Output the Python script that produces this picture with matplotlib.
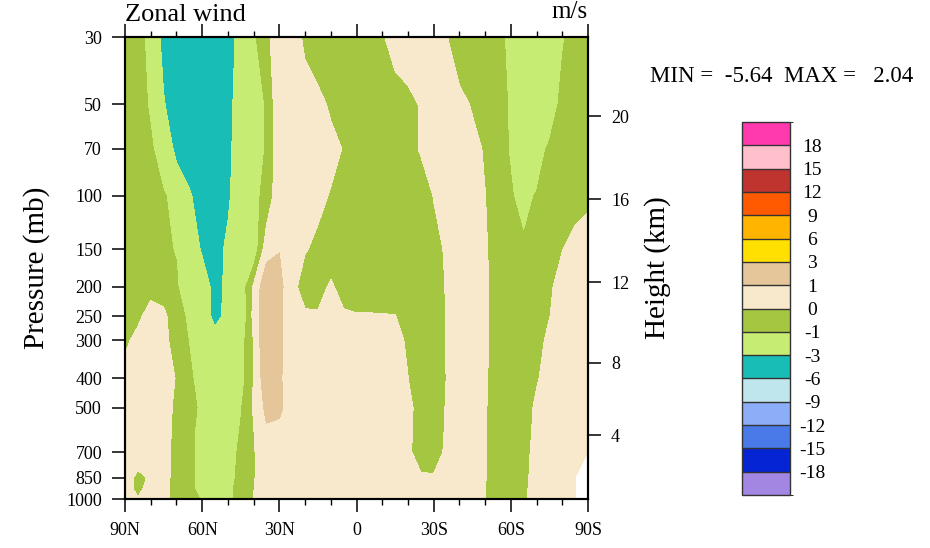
import numpy as np
import matplotlib
matplotlib.use("Agg")
import matplotlib.pyplot as plt
from matplotlib.colors import ListedColormap, BoundaryNorm
from matplotlib.cm import ScalarMappable
from matplotlib.ticker import FixedLocator, NullLocator

plt.rcParams['font.family'] = ['Liberation Serif', 'DejaVu Serif']
plt.rcParams['axes.unicode_minus'] = False

# ---------------- data ----------------
lats = [90, 85, 80, 75, 70, 65, 60, 55, 50, 45, 40, 35, 30, 25, 20, 15, 10, 5, 0,
        -5, -10, -15, -20, -25, -30, -35, -40, -45, -50, -55, -60, -65, -70, -75, -80, -85, -90]
pressures = [30, 50, 70, 100, 150, 200, 250, 300, 400, 500, 600, 700, 850, 925, 1000]

u_30 = [-0.5, -0.8, -1.2, -3.7, -4.5, -5.0, -5.64, -5.0, -4.0, -2.2, -1.2, -0.2, 0.5, 0.5, -0.2, -0.6, -0.7, -0.8, -0.7,
        -0.5, -0.1, 0.4, 0.6, 0.6, 0.4, 0.05, -0.6, -0.8, -0.85, -0.9, -1.1, -1.8, -2.0, -1.8, -1.1, -0.6, -0.5]
u_50 = [-0.5, -0.7, -1.1, -2.8, -4.5, -5.2, -5.5, -5.0, -3.5, -2.2, -1.6, -0.9, 0.8, 0.6, 0.5, 0.3, -0.15, -0.6, -0.7,
        -0.7, -0.6, -0.5, -0.3, 0.08, 0.5, 0.5, 0.3, -0.08, -0.6, -0.85, -1.05, -1.8, -2.1, -1.6, -0.7, -0.5, -0.5]
u_70 = [-0.5, -0.7, -0.9, -1.4, -3.6, -4.8, -5.3, -4.8, -3.4, -2.1, -1.6, -0.9, 0.8, 0.7, 0.6, 0.5, 0.3, -0.05, -0.6,
        -0.8, -0.8, -0.6, -0.3, 0.08, 0.5, 0.6, 0.5, 0.3, -0.1, -0.8, -1.05, -1.5, -1.4, -0.85, -0.6, -0.5, -0.4]
u_100 = [-0.4, -0.6, -0.8, -0.95, -1.2, -2.6, -4.6, -4.8, -3.3, -1.8, -1.4, -0.6, 0.6, 0.6, 0.5, 0.3, -0.08, -0.5, -0.7,
         -0.8, -0.8, -0.7, -0.6, -0.5, 0.03, 0.4, 0.5, 0.4, 0.02, -0.6, -0.95, -1.2, -0.95, -0.7, -0.5, -0.3, -0.15]
u_150 = [-0.3, -0.5, -0.7, -0.9, -1.04, -2.5, -3.1, -3.8, -2.6, -2.2, -1.8, 0.6, 0.98, 0.7, 0.1, -0.3, -0.7, -0.8, -0.8,
         -0.8, -0.8, -0.7, -0.6, -0.5, -0.3, 0.12, 0.5, 0.4, 0.1, -0.4, -0.8, -0.9, -0.7, -0.5, -0.03, 0.3, 0.4]
u_200 = [-0.2, -0.4, -0.3, -0.6, -0.9, -1.7, -2.5, -3.3, -2.8, -1.8, 0.2, 1.8, 1.2, 0.5, -0.75, -0.5, 0.2, -0.5, -0.8,
         -0.8, -0.8, -0.8, -0.8, -0.7, -0.5, 0.07, 0.5, 0.4, 0.2, -0.5, -0.8, -0.8, -0.6, -0.2, 0.5, 0.6, 0.6]
u_250 = [-0.4, -0.2, 0.4, 0.3, -0.8, -1.1, -2.2, -3.4, -2.6, -2.0, 0.3, 1.8, 1.15, 0.6, 0.3, 0.15, 0.15, 0.2, 0.12,
         0.12, 0.1, 0.05, -0.6, -0.8, -0.6, 0.07, 0.5, 0.4, 0.2, -0.5, -0.7, -0.7, -0.5, -0.02, 0.4, 0.5, 0.6]
u_300 = [-0.2, 0.3, 0.5, 0.3, -0.45, -1.05, -1.8, -2.4, -2.0, -1.5, 0.05, 2.04, 1.15, 0.6, 0.5, 0.5, 0.4, 0.4, 0.35,
         0.3, 0.25, 0.15, -0.07, -0.7, -0.6, 0.07, 0.5, 0.4, 0.2, -0.5, -0.7, -0.6, -0.3, 0.2, 0.5, 0.6, 0.6]
u_400 = [0.4, 0.5, 0.5, 0.4, -0.05, -0.8, -1.5, -2.0, -2.0, -1.5, 0.05, 1.7, 1.1, 0.6, 0.5, 0.5, 0.4, 0.4, 0.4,
         0.35, 0.3, 0.2, 0.01, -0.6, -0.6, 0.02, 0.5, 0.4, 0.1, -0.4, -0.7, -0.6, -0.1, 0.4, 0.5, 0.6, 0.6]
u_500 = [0.4, 0.5, 0.5, 0.4, -0.2, -0.85, -1.1, -1.9, -2.0, -1.1, 0.1, 1.25, 1.15, 0.6, 0.5, 0.5, 0.45, 0.45, 0.45,
         0.4, 0.35, 0.25, 0.1, -0.15, -0.5, 0.07, 0.5, 0.4, 0.1, -0.6, -0.7, -0.5, 0.2, 0.5, 0.5, 0.6, 0.6]
u_600 = [0.4, 0.5, 0.5, 0.4, -0.25, -0.9, -1.15, -1.8, -1.8, -0.9, -0.03, 0.85, 0.8, 0.6, 0.5, 0.5, 0.45, 0.45, 0.45,
         0.4, 0.35, 0.25, 0.1, -0.2, -0.5, 0.12, 0.5, 0.4, 0.05, -0.6, -0.7, -0.4, 0.25, 0.5, 0.5, 0.6, 0.6]
u_700 = [0.4, 0.45, 0.5, 0.4, -0.4, -0.9, -1.15, -1.8, -1.7, -0.7, -0.05, 0.4, 0.5, 0.5, 0.45, 0.45, 0.45, 0.45, 0.4,
         0.35, 0.3, 0.25, 0.15, -0.35, -0.5, 0.2, 0.5, 0.4, 0.05, -0.6, -0.7, -0.3, 0.3, 0.5, 0.5, 0.5, 0.5]
u_850 = [0.4, -0.2, 0.1, 0.4, -0.4, -0.9, -1.13, -1.7, -1.4, -0.7, -0.05, 0.4, 0.5, 0.5, 0.45, 0.45, 0.45, 0.45, 0.4,
         0.35, 0.35, 0.3, 0.3, 0.1, 0.1, 0.3, 0.5, 0.4, 0.05, -0.6, -0.7, -0.2, 0.3, 0.5, 0.5, 0.5, np.nan]
u_925 = [0.35, -0.2, 0.3, 0.4, -0.45, -0.9, -1.15, -1.6, -1.3, -0.6, -0.02, 0.4, 0.5, 0.5, 0.45, 0.45, 0.45, 0.45, 0.4,
         0.35, 0.35, 0.3, 0.3, 0.25, 0.2, 0.3, 0.5, 0.4, 0.03, -0.6, -0.7, -0.2, 0.4, 0.5, 0.5, 0.5, np.nan]
u_1000 = [0.3, 0.05, 0.4, 0.4, -0.4, -0.9, -1.02, -1.5, -1.3, -0.55, 0.02, 0.4, 0.5, 0.5, 0.45, 0.45, 0.45, 0.45, 0.4,
          0.35, 0.35, 0.3, 0.3, 0.25, 0.2, 0.3, 0.5, 0.4, 0.02, -0.6, -0.7, -0.2, 0.4, 0.5, 0.5, 0.5, np.nan]

levels = [-18, -15, -12, -9, -6, -3, -1, 0, 1, 3, 6, 9, 12, 15, 18]
fill_colors = ['#A386E2', '#0524D4', '#4A7AE8', '#8CAEF8', '#BEE6EC', '#18BDB5', '#C6EC74',
               '#A5C640', '#F8E8CC', '#E5C59A', '#FFE000', '#FFB400', '#FF5A00', '#C0342F',
               '#FFC0CB', '#FF3AAE']

pres_ticks = [30, 50, 70, 100, 150, 200, 250, 300, 400, 500, 700, 850, 1000]
lat_ticks = [90, 60, 30, 0, -30, -60, -90]
lat_labels = ['90N', '60N', '30N', '0', '30S', '60S', '90S']
height_ticks = [4, 8, 12, 16, 20]

title_left = 'Zonal wind'
title_right = 'm/s'
ylabel_left = 'Pressure (mb)'
ylabel_right = 'Height (km)'
minmax_text = 'MIN =  -5.64  MAX =   2.04'

# ---------------- figure ----------------
W, H = 930, 548
fig = plt.figure(figsize=(W / 100, H / 100), dpi=100)
ax = fig.add_axes([125 / W, 1 - 499 / H, 463 / W, 462 / H])

U = np.ma.masked_invalid(np.array([u_30, u_50, u_70, u_100, u_150, u_200, u_250, u_300,
                                   u_400, u_500, u_600, u_700, u_850, u_925, u_1000]))
bounds = [-21] + levels + [21]
cmap = ListedColormap(fill_colors)
norm = BoundaryNorm(bounds, cmap.N)
ax.contourf(lats, pressures, U, levels=bounds, colors=fill_colors, antialiased=False)

ax.set_yscale('log')
ax.set_ylim(1000, 30)
ax.set_xlim(90, -90)

tick_fs = 13
ax.yaxis.set_major_locator(FixedLocator(pres_ticks))
ax.yaxis.set_minor_locator(NullLocator())
ax.set_yticklabels([str(p) for p in pres_ticks])
ax.xaxis.set_major_locator(FixedLocator(lat_ticks))
ax.xaxis.set_minor_locator(FixedLocator([v for v in range(-80, 90, 10) if v % 30 != 0]))
ax.set_xticklabels(lat_labels)
ax.tick_params(axis='both', which='major', direction='out', length=9.5, width=1.1,
               labelsize=tick_fs, pad=7)
ax.tick_params(axis='x', which='both', top=True, labeltop=False)
ax.tick_params(axis='x', which='minor', direction='out', length=4.5, width=1.0)
ax.tick_params(axis='y', which='both', right=False)
for s in ax.spines.values():
    s.set_linewidth(1.5)

# right height axis (standard atmosphere)
def std_p(hkm):
    if hkm <= 11:
        return 1013.25 * (1 - 0.0065 * hkm * 1000 / 288.15) ** 5.25588
    return 226.32 * np.exp(-(hkm - 11) * 1000 * 9.80665 / (287.053 * 216.65))

ax2 = ax.twinx()
ax2.set_yscale('log')
ax2.set_ylim(1000, 30)
ax2.yaxis.set_major_locator(FixedLocator([std_p(h) for h in height_ticks]))
ax2.yaxis.set_minor_locator(NullLocator())
ax2.set_yticklabels([str(h) for h in height_ticks])
ax2.tick_params(axis='y', which='major', direction='out', length=9.5, width=1.1,
                labelsize=tick_fs, pad=7)
for s in ax2.spines.values():
    s.set_linewidth(1.5)

# titles and labels
ax.text(0, 1 + 16 / 462, title_left, transform=ax.transAxes, ha='left', va='baseline', fontsize=19)
ax.text(1, 1 + 19 / 462, title_right, transform=ax.transAxes, ha='right', va='baseline', fontsize=18)
fig.text(37 / W, 1 - 268 / H, ylabel_left, rotation=90, ha='center', va='center', fontsize=21)
fig.text(658 / W, 1 - 268 / H, ylabel_right, rotation=90, ha='center', va='center', fontsize=21)
fig.text(650 / W, 1 - 82 / H, minmax_text, ha='left', va='baseline', fontsize=16.5)

# colorbar
cax = fig.add_axes([742 / W, 1 - 495 / H, 48 / W, 373 / H])
cb = fig.colorbar(ScalarMappable(norm=norm, cmap=cmap), cax=cax, boundaries=bounds,
                  ticks=levels, spacing='uniform', drawedges=True)
cb.set_ticklabels([str(v) for v in levels])
cb.outline.set_linewidth(1.0)
cb.outline.set_edgecolor('#333333')
cb.dividers.set_color('#333333')
cb.dividers.set_linewidth(1.0)
cax.tick_params(length=0, pad=16, labelsize=14)
for lab in cax.get_yticklabels():
    lab.set_horizontalalignment('center')

fig.savefig('out.png', dpi=100)
